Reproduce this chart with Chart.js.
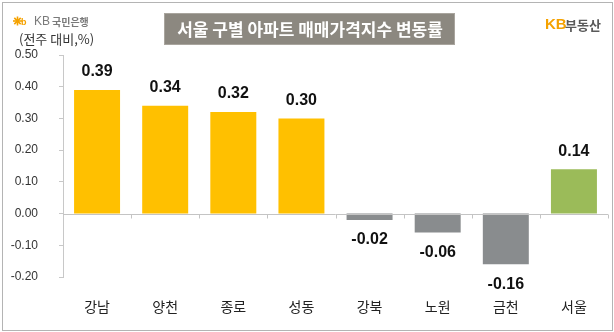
<!DOCTYPE html>
<html>
<head>
<meta charset="utf-8">
<script src="https://cdn.jsdelivr.net/npm/chart.js@4/dist/chart.umd.min.js"></script>
<style>
  body { margin: 0; background: #fff; }
  #grafica { display: block; }
</style>
</head>
<body>
<canvas id="grafica" width="614" height="332"></canvas>
<script>
// 서울 구별 아파트 매매가격지수 변동률 (전주 대비, %)
const categorias = ['강남', '양천', '종로', '성동', '강북', '노원', '금천', '서울'];
const variacion = [0.39, 0.34, 0.32, 0.30, -0.02, -0.06, -0.16, 0.14];
const ejeMin = -0.2;
const ejeMax = 0.5;
const ejePaso = 0.1;

const titulo = '서울 구별 아파트 매매가격지수 변동률';
const unidad = '(전주 대비,%)';

const AMARILLO = '#FFC000';
const GRIS = '#898C8E';
const VERDE = '#9BBB59';

function colorBarra(i) {
  if (categorias[i] === '서울') return VERDE;
  return variacion[i] < 0 ? GRIS : AMARILLO;
}

// marco, titulo y logos
const decoracion = {
  id: 'decoracion',
  beforeDraw(chart) {
    const c = chart.ctx;
    c.save();
    c.fillStyle = '#fff';
    c.fillRect(0, 0, chart.width, chart.height);
    c.strokeStyle = '#b4b4b4';
    c.lineWidth = 1;
    c.strokeRect(2.5, 2.5, 610, 328);

    // caja del titulo
    c.fillStyle = '#8C8880';
    c.fillRect(164, 13, 291, 32);
    c.strokeStyle = '#a9a59e';
    c.strokeRect(164.5, 13.5, 290, 31);
    c.fillStyle = '#fff';
    c.font = 'bold 17px "Noto Sans CJK KR"';
    c.textAlign = 'center';
    c.textBaseline = 'middle';
    c.fillText(titulo, 310, 30, 284);

    // logo KB국민은행
    c.strokeStyle = '#F5A200';
    c.lineWidth = 1.6;
    for (let k = 0; k < 4; k++) {
      const a = k * Math.PI / 4;
      c.beginPath();
      c.moveTo(17.5 - 4.5 * Math.cos(a), 21 - 4.5 * Math.sin(a));
      c.lineTo(17.5 + 4.5 * Math.cos(a), 21 + 4.5 * Math.sin(a));
      c.stroke();
    }
    c.fillStyle = '#F5A200';
    c.font = 'bold 9px "Liberation Sans"';
    c.textAlign = 'left';
    c.fillText('b', 21, 23);
    c.fillStyle = '#7a7a7a';
    c.font = '12px "Liberation Sans"';
    c.fillText('KB', 34, 22);
    c.font = 'bold 10px "Noto Sans CJK KR"';
    c.fillText('국민은행', 52, 22);

    c.fillStyle = '#333';
    c.font = '13px "Noto Sans CJK KR"';
    c.fillText(unidad, 19, 39);

    // logo KB부동산
    c.fillStyle = '#F5A200';
    c.font = 'bold 15px "Liberation Sans"';
    c.fillText('KB', 545, 25);
    c.fillStyle = '#5a5a5a';
    c.font = 'bold 13px "Noto Sans CJK KR"';
    c.fillText('부동산', 565, 25);
    c.restore();
  }
};

// linea de cero con marcas entre categorias
const lineaCero = {
  id: 'lineaCero',
  afterDatasetsDraw(chart) {
    const c = chart.ctx;
    const x = chart.scales.x;
    const y = chart.scales.y;
    const y0 = Math.round(y.getPixelForValue(0)) + 0.5;
    const ancho = (x.right - x.left) / categorias.length;
    c.save();
    c.strokeStyle = '#c4c4c4';
    c.lineWidth = 1;
    c.beginPath();
    c.moveTo(x.left, y0);
    c.lineTo(x.right, y0);
    for (let i = 1; i <= categorias.length; i++) {
      const xb = Math.round(x.left + i * ancho) + 0.5;
      c.moveTo(xb, y0);
      c.lineTo(xb, y0 + 4);
    }
    c.stroke();
    c.restore();
  }
};

// etiquetas de valor
const etiquetas = {
  id: 'etiquetas',
  afterDatasetsDraw(chart) {
    const c = chart.ctx;
    const meta = chart.getDatasetMeta(0);
    c.save();
    c.fillStyle = '#111';
    c.font = 'bold 16px "Liberation Sans"';
    c.textAlign = 'center';
    c.textBaseline = 'middle';
    meta.data.forEach((barra, i) => {
      const v = variacion[i];
      const yTxt = v >= 0 ? barra.y - 18 : barra.y + 20;
      c.fillText(v.toFixed(2), barra.x, yTxt);
    });
    c.restore();
  }
};

const ctx = document.getElementById('grafica').getContext('2d');

new Chart(ctx, {
  type: 'bar',
  data: {
    labels: categorias,
    datasets: [{
      label: '변동률',
      data: variacion,
      backgroundColor: variacion.map((v, i) => colorBarra(i)),
      borderWidth: 0,
      categoryPercentage: 1,
      barPercentage: 0.675
    }]
  },
  options: {
    responsive: false,
    animation: false,
    layout: { padding: { left: 0, top: 55, right: 6, bottom: 10 } },
    plugins: {
      legend: { display: false },
      tooltip: { enabled: false }
    },
    scales: {
      x: {
        grid: { display: false },
        border: { display: false },
        ticks: {
          padding: 13,
          color: '#222',
          font: { family: '"Noto Sans CJK KR"', size: 14 }
        },
        afterFit: s => { s.height = 45; }
      },
      y: {
        min: ejeMin,
        max: ejeMax,
        grid: {
          drawOnChartArea: false,
          drawTicks: true,
          tickLength: 4,
          color: '#c8c8c8'
        },
        border: { color: '#c8c8c8' },
        ticks: {
          stepSize: ejePaso,
          padding: 21,
          color: '#333',
          font: { family: '"Liberation Sans"', size: 12 },
          callback: v => (Math.round(v * 100) / 100).toFixed(2)
        },
        afterFit: s => { s.width = 63; }
      }
    }
  },
  plugins: [decoracion, lineaCero, etiquetas]
});
</script>
</body>
</html>
